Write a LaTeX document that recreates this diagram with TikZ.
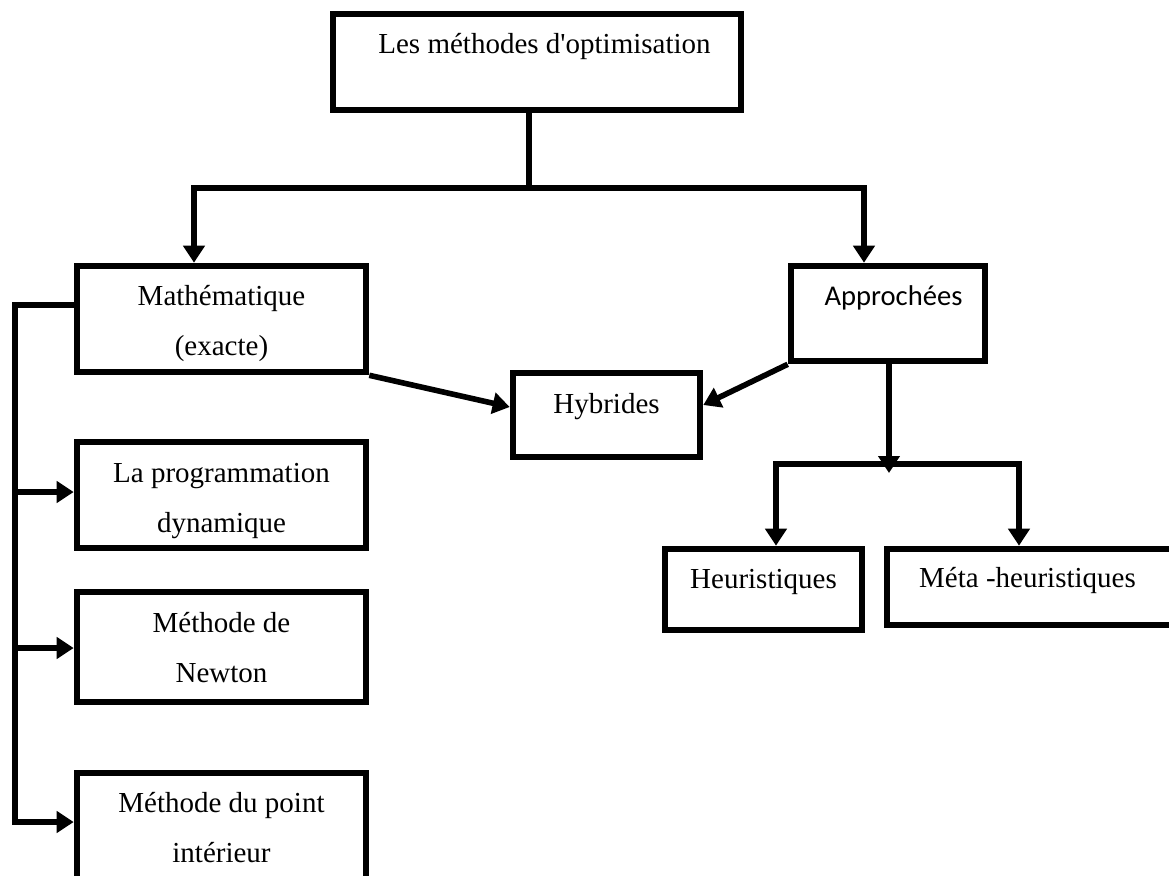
\documentclass[tikz,border=0pt]{standalone}
\usepackage{fontspec}
\setmainfont{Liberation Serif}
\newfontfamily\sansbody{Carlito}
\usetikzlibrary{arrows.meta,calc}
\begin{document}
\begin{tikzpicture}[x=0.5pt,y=-0.5pt,
  box/.style 2 args={draw,line width=3.3pt,rectangle,inner sep=0pt,outer sep=1.65pt,
    minimum width=#1*0.5pt,minimum height=#2*0.5pt},
  txt/.style={font=\fontsize{14.5}{25}\selectfont,align=center,inner sep=0pt,anchor=base},
  link/.style={line width=2.8pt,line join=miter},
  arr/.style={link,-{Triangle[width=10.5pt,length=8.5pt]}}]
\useasboundingbox (0,0) rectangle (1169,875);

% boxes
\node[box={408}{96}]  (top)   at (537,62)    {};
\node[box={289}{106}] (math)  at (221.5,319) {};
\node[box={194}{95}]  (appr)  at (888,313.5) {};
\node[box={187}{84}]  (hyb)   at (606.5,415) {};
\node[box={197}{81}]  (heur)  at (763.5,589.5) {};
\node[box={300}{76}]  (meta)  at (1037,587)  {};
\node[box={289}{106}] (prog)  at (221.5,495) {};
\node[box={289}{110}] (newt)  at (221.5,647) {};
\node[box={289}{117}] (point) at (221.5,831.5) {};

% labels (two-line labels sit on the baseline of their last line)
\node[txt] (topT)   at (544.5,53)  {Les méthodes d\textquotesingle optimisation};
\node[txt] (mathT)  at (221.5,355) {Mathématique\\(exacte)};
\node[txt,font=\sansbody\fontsize{14.3}{25}\selectfont] (apprT) at (893.5,305) {Approchées};
\node[txt] (hybT)   at (606.5,413) {Hybrides};
\node[txt] (heurT)  at (763.5,588) {Heuristiques};
\node[txt] (metaT)  at (1027.5,587) {Méta -heuristiques};
\node[txt] (progT)  at (221.5,532) {La programmation\\dynamique};
\node[txt] (newtT)  at (221.5,682) {Méthode de\\Newton};
\node[txt] (pointT) at (221.5,862) {Méthode du point\\intérieur};

% junction points
\coordinate (j1) at (529,188);
\coordinate (mL) at (194,188);
\coordinate (aR) at (864,188);
\coordinate (j2) at (889,464);
\coordinate (hL) at (776,464);
\coordinate (hR) at (1019,464);
\coordinate (b0) at (15,305);
\coordinate (b1) at (15,492);
\coordinate (b2) at (15,648);
\coordinate (b3) at (15,822);

% main split
\draw[link] (top.south -| j1) -- (j1);
\draw[arr] (j1) -| (mL |- math.north);
\draw[arr] (j1) -| (aR |- appr.north);

% hybrid links
\draw[arr] (math.south east) -- ($(hyb.west)+(0,-8)$);
\draw[arr] (appr.south west) -- ($(hyb.east)+(0,-10)$);

% approximate branch
\draw[arr] (appr.south -| j2) -- ($(j2)+(0,9)$);
\draw[arr] (j2) -| (hL |- heur.north);
\draw[arr] (j2) -| (hR |- meta.north);

% exact branch
\draw[arr] (math.west |- b0) -- (b0) -- (b3) -- (b3 -| point.west);
\draw[arr] (b1) -- (b1 -| prog.west);
\draw[arr] (b2) -- (b2 -| newt.west);
\end{tikzpicture}
\end{document}
